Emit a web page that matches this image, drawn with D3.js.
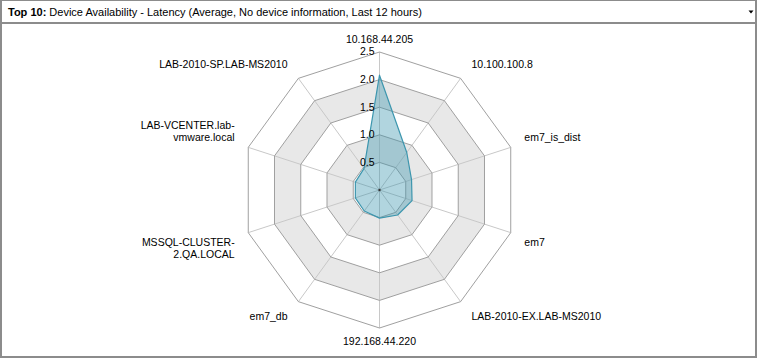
<!DOCTYPE html>
<html>
<head>
<meta charset="utf-8">
<script src="https://cdn.jsdelivr.net/npm/d3@7"></script>
<style>
  body { margin: 0; background: #fff; }
  svg { display: block; font-family: Arial, "Liberation Sans", sans-serif; }
</style>
</head>
<body>
<div id="chart"></div>
<script>
// device names, clockwise from the top
const categories = ["10.168.44.205", "10.100.100.8", "em7_is_dist", "em7", "LAB-2010-EX.LAB-MS2010",
  "192.168.44.220", "em7_db", "MSSQL-CLUSTER-2.QA.LOCAL", "LAB-VCENTER.lab-vmware.local", "LAB-2010-SP.LAB-MS2010"];
// average latency
const latency = [2.08, 0.84, 0.61, 0.62, 0.56, 0.51, 0.47, 0.46, 0.46, 0.48];
const tickValues = [0.5, 1.0, 1.5, 2.0, 2.5];
const tickLabels = ["0.5", "1.0", "1.5", "2.0", "2.5"];

const W = 757, H = 358;
const cx = 379.5, cy = 190, R = 138;
const color = "#3D96AE";
const fs = "10.5px";

const svg = d3.select("#chart").append("svg")
  .attr("width", W).attr("height", H);

// panel frame
svg.append("rect").attr("x", 0).attr("y", 0).attr("width", W).attr("height", H).attr("fill", "#8c8c8c");
svg.append("rect").attr("x", 2).attr("y", 1).attr("width", W - 4).attr("height", 21).attr("fill", "#fff");
svg.append("rect").attr("x", 2).attr("y", 24).attr("width", W - 4).attr("height", H - 26).attr("fill", "#fff");

const title = svg.append("text").attr("x", 8).attr("y", 16).style("font-size", "11px").attr("fill", "#000");
title.append("tspan").style("font-weight", "bold").text("Top 10:");
title.append("tspan").text(" Device Availability - Latency (Average, No device information, Last 12 hours)");

// little dropdown arrow
svg.append("path").attr("d", "M748.5,10.5 h5 l-2.5,3 z").attr("fill", "#000");

const r = d3.scaleLinear().domain([0, 2.5]).range([0, R]);
const angle = d3.scaleLinear().domain([0, categories.length]).range([0, 2 * Math.PI]);

function pt(i, v) {
  const a = angle(i);
  return [cx + Math.sin(a) * r(v), cy - Math.cos(a) * r(v)];
}

const ring = v => categories.map((c, i) => pt(i, v));
const closed = d3.line().curve(d3.curveLinearClosed);

const g = svg.append("g");

// alternating bands, drawn from outside in
const bands = tickValues.slice().reverse();
bands.forEach((v, k) => {
  g.append("path").attr("d", closed(ring(v)))
    .attr("fill", k % 2 === 0 ? "#fff" : "#e8e8e8")
    .attr("stroke", "none");
});

// spokes
categories.forEach((c, i) => {
  const p = pt(i, 2.5);
  g.append("line")
    .attr("x1", cx).attr("y1", cy).attr("x2", p[0]).attr("y2", p[1])
    .attr("stroke", "#c8c8c8").attr("stroke-width", 1);
});

// ring lines
tickValues.forEach(v => {
  g.append("path").attr("d", closed(ring(v)))
    .attr("fill", "none").attr("stroke", "#a0a0a0").attr("stroke-width", 1);
});

// series
g.append("path")
  .datum(latency.map((v, i) => pt(i, v)))
  .attr("d", closed)
  .attr("fill", color).attr("fill-opacity", 0.4)
  .attr("stroke", color).attr("stroke-width", 1.2)
  .attr("stroke-linejoin", "round");

g.append("circle").attr("cx", cx).attr("cy", cy).attr("r", 1.2).attr("fill", "#333");

// radial tick labels
tickValues.forEach((v, k) => {
  g.append("text")
    .attr("x", cx - 5).attr("y", cy - r(v)).attr("dy", "0.33em")
    .attr("text-anchor", "end")
    .style("font-size", fs).attr("fill", "#000")
    .text(tickLabels[k]);
});

// category labels, wrapped at a hyphen when too wide
const maxW = 135;
function wrapLines(name) {
  const probe = svg.append("text").style("font-size", fs).text(name);
  let lines = [name];
  if (probe.node().getComputedTextLength() > maxW) {
    for (let j = name.length - 1; j > 0; j--) {
      if (name[j] === "-") {
        probe.text(name.slice(0, j + 1));
        if (probe.node().getComputedTextLength() <= maxW) {
          lines = [name.slice(0, j + 1), name.slice(j + 1)];
          break;
        }
      }
    }
  }
  probe.remove();
  return lines;
}

const lh = 12.5;
categories.forEach((name, i) => {
  const a = angle(i);
  const dx = Math.sin(a), dy = -Math.cos(a);
  const lines = wrapLines(name);
  const h = lines.length * lh;
  let anchor = "middle";
  if (dx > 0.01) anchor = "start";
  if (dx < -0.01) anchor = "end";
  const sx = Math.abs(dx) < 0.01 ? 0 : Math.sign(dx);
  const sy = Math.abs(dy) < 0.01 ? 0 : Math.sign(dy);
  const x = cx + (R + 13) * dx + sx * 4 * Math.abs(dy);
  const mid = cy + (R + 13) * dy + sy * Math.abs(dx) * h / 2;
  const t = g.append("text")
    .attr("text-anchor", anchor)
    .style("font-size", fs).attr("fill", "#000");
  lines.forEach((ln, k) => {
    t.append("tspan")
      .attr("x", x)
      .attr("y", mid - h / 2 + lh * k + lh / 2)
      .attr("dy", "0.35em")
      .text(ln);
  });
});
</script>
</body>
</html>
